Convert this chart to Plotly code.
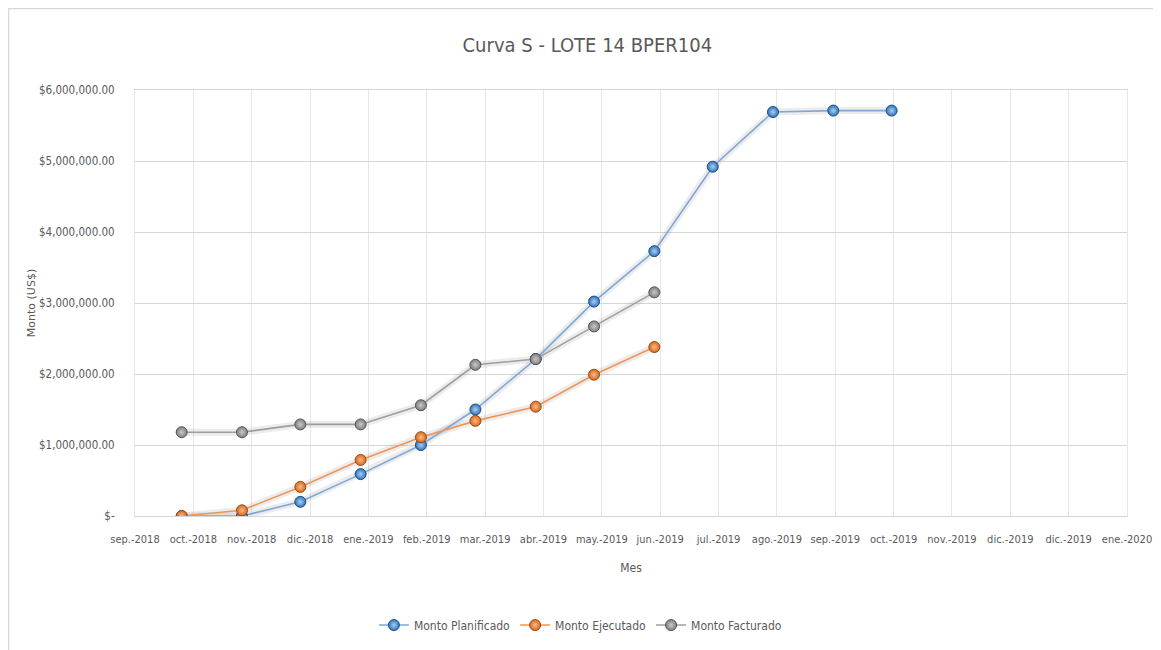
import pandas as pd
import plotly.graph_objects as go

# ---- data ----
meses = ["2018-10-01", "2018-11-01", "2018-12-01", "2019-01-01", "2019-02-01",
         "2019-03-01", "2019-04-01", "2019-05-01", "2019-06-01", "2019-07-01",
         "2019-08-01", "2019-09-01", "2019-10-01"]
monto_planificado = [0, 0, 200000, 590000, 1000000, 1500000, 2210000, 3020000,
                     3730000, 4920000, 5690000, 5710000, 5710000]
monto_ejecutado = [0, 80000, 410000, 790000, 1110000, 1340000, 1540000, 1990000, 2380000]
monto_facturado = [1180000, 1180000, 1290000, 1290000, 1560000, 2130000, 2210000, 2670000, 3150000]

x_tick_labels = ["sep.-2018", "oct.-2018", "nov.-2018", "dic.-2018", "ene.-2019", "feb.-2019",
                 "mar.-2019", "abr.-2019", "may.-2019", "jun.-2019", "jul.-2019", "ago.-2019",
                 "sep.-2019", "oct.-2019", "nov.-2019", "dic.-2019", "dic.-2019", "ene.-2020"]
y_tick_values = [0, 1000000, 2000000, 3000000, 4000000, 5000000, 6000000]
y_tick_labels = ["$-", "$1,000,000.00", "$2,000,000.00", "$3,000,000.00",
                 "$4,000,000.00", "$5,000,000.00", "$6,000,000.00"]

# date axis: Excel-style major unit of 30 days
x_ticks = pd.date_range("2018-09-07", periods=len(x_tick_labels), freq="30D")

FONT = "Liberation Sans Narrow, DejaVu Sans Condensed, Arial Narrow, Roboto, sans-serif"
TXT = "#595959"

W, H = 1153, 642          # page body has an 8px margin
ML, MR, MT, MB = 127, 34, 82, 134
PW, PH = W - ML - MR, H - MT - MB

series = [
    ("Monto Planificado", monto_planificado, "#7FA7D8", "#2F74BE", "#A9CDF2", "#1F4E82"),
    ("Monto Ejecutado", monto_ejecutado, "#EE9656", "#D9691C", "#F7B98A", "#9C4A10"),
    ("Monto Facturado", monto_facturado, "#9E9E9E", "#7F7F7F", "#C8C8C8", "#555555"),
]

fig = go.Figure()
# soft shadows
for name, vals, lc, mc, gc, oc in series:
    fig.add_trace(go.Scatter(
        x=meses[:len(vals)], y=vals, mode="lines",
        line=dict(color="rgba(110,110,110,0.13)", width=7),
        showlegend=False, hoverinfo="skip"))
for name, vals, lc, mc, gc, oc in series:
    fig.add_trace(go.Scatter(
        x=meses[:len(vals)], y=vals, mode="lines+markers", name=name,
        line=dict(color=lc, width=1.6),
        marker=dict(size=11, color=mc, symbol="circle",
                    gradient=dict(type="radial", color=gc),
                    line=dict(color=oc, width=1)),
    ))

fig.update_layout(
    width=W, height=H,
    paper_bgcolor="white", plot_bgcolor="white",
    margin=dict(l=ML, r=MR, t=MT, b=MB, autoexpand=False),
    title=dict(text="Curva S - LOTE 14 BPER104", x=0.456, xref="paper", xanchor="center",
               y=0.942, yanchor="middle",
               font=dict(family=FONT, size=20, color=TXT)),
    font=dict(family=FONT, color=TXT),
    legend=dict(orientation="h", x=0.449, xanchor="center", y=-0.256, yanchor="middle",
                font=dict(family=FONT, size=12, color=TXT), itemwidth=30),
    xaxis=dict(
        type="date", automargin=False,
        range=[x_ticks[0], x_ticks[-1]],
        tickmode="array", tickvals=x_ticks, ticktext=x_tick_labels,
        tickfont=dict(family=FONT, size=11, color=TXT),
        showgrid=True, gridcolor="#E6E6E6", gridwidth=1,
        showline=True, mirror=True, linecolor="#D6D6D6", linewidth=1,
        ticks="", ticklabelstandoff=13,
        title=dict(text="Mes", font=dict(family=FONT, size=12, color=TXT), standoff=18),
        zeroline=False,
    ),
    yaxis=dict(
        range=[0, 6000000], automargin=False,
        tickmode="array", tickvals=y_tick_values, ticktext=y_tick_labels,
        tickfont=dict(family=FONT, size=11.5, color=TXT),
        showgrid=True, gridcolor="#D6D6D6", gridwidth=1,
        showline=True, mirror=True, linecolor="#E6E6E6", linewidth=1,
        zeroline=True, zerolinecolor="#D6D6D6", zerolinewidth=1,
        ticks="", ticklabelstandoff=17,
        title=dict(text="Monto (US$)", font=dict(family="DejaVu Sans, sans-serif", size=11, color=TXT),
                   standoff=1),
    ),
    shapes=[dict(type="rect", xref="paper", yref="paper",
                 x0=-(ML - 0.5) / PW, x1=1 + (MR + 20) / PW,
                 y0=-(MB + 20) / PH, y1=1 + (MT - 0.5) / PH,
                 line=dict(color="#D9D9D9", width=1.5), fillcolor="rgba(0,0,0,0)",
                 layer="below")],
)

fig.write_html("out.html")
